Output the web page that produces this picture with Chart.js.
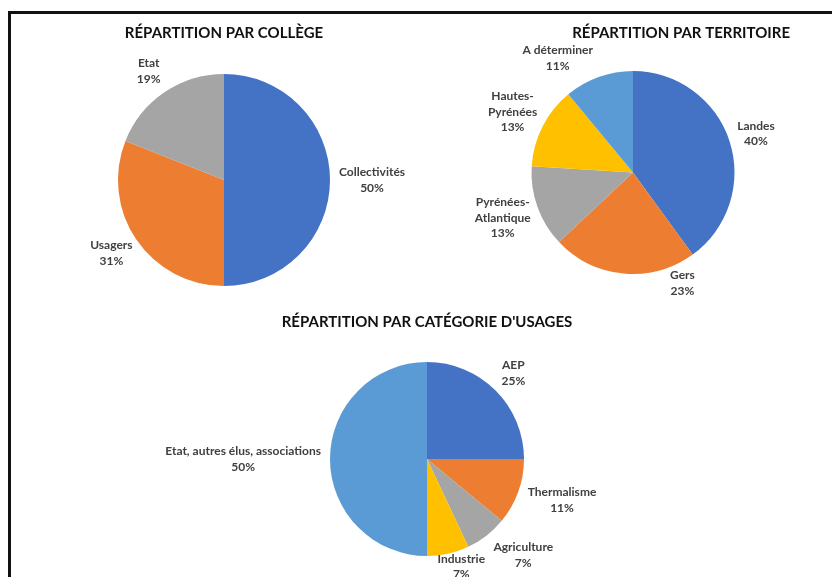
<!DOCTYPE html>
<html>
<head>
<meta charset="utf-8">
<script src="https://cdn.jsdelivr.net/npm/chart.js@4.4.1/dist/chart.umd.min.js"></script>
<style>
    body { margin: 0; background: #fff; }
    #frame { position: absolute; left: 8px; top: 11px; width: 1000px; height: 1000px; border: 3px solid #111; }
    canvas { position: absolute; }
</style>
</head>
<body>
<div id="frame"></div>
<canvas id="college-pie" width="420" height="300" style="left:0;top:0;"></canvas>
<canvas id="territoire-pie" width="412" height="300" style="left:420px;top:0;"></canvas>
<canvas id="usages-pie" width="832" height="277" style="left:0;top:300px;"></canvas>
<script>
    // Répartition par collège
    const collegeLabels = ['Collectivités', 'Usagers', 'Etat'];
    const collegeValues = [50, 31, 19];

    // Répartition par territoire
    const territoireLabels = ['Landes', 'Gers', 'Pyrénées-Atlantique', 'Hautes-Pyrénées', 'A déterminer'];
    const territoireValues = [40, 23, 13, 13, 11];

    // Répartition par catégorie d'usages
    const usagesLabels = ['AEP', 'Thermalisme', 'Agriculture', 'Industrie', 'Etat, autres élus, associations'];
    const usagesValues = [25, 11, 7, 7, 50];

    const blue = '#4472C4', orange = '#ED7D31', grey = '#A5A5A5', gold = '#FFC000', lightBlue = '#5B9BD5';
    const fontFamily = 'Lato, "Open Sans", sans-serif';

    // Excel-like outside labels: "name / xx%"
    const outsideLabels = {
        id: 'outsideLabels',
        afterDatasetsDraw(chart, args, opts) {
            const ctx = chart.ctx;
            const meta = chart.getDatasetMeta(0);
            const data = chart.data.datasets[0].data;
            const total = data.reduce((a, b) => a + b, 0);
            const nudges = opts.nudges || {};
            const lh = 15.5;
            ctx.save();
            ctx.font = 'bold 12px ' + fontFamily;
            ctx.fillStyle = '#404040';
            ctx.textAlign = 'center';
            ctx.textBaseline = 'middle';
            meta.data.forEach((arc, i) => {
                const p = arc.getProps(['x', 'y', 'startAngle', 'endAngle', 'outerRadius'], true);
                const mid = (p.startAngle + p.endAngle) / 2;
                const dx = Math.cos(mid), dy = Math.sin(mid);
                const lines = chart.data.labels[i].replace('-', '-\n').split('\n');
                lines.push(Math.round(data[i] / total * 100) + '%');
                const w = Math.max(...lines.map(l => ctx.measureText(l).width));
                const h = lines.length * lh;
                const n = nudges[i] || [0, 0];
                const cx = p.x + dx * (p.outerRadius + opts.gap) + dx * w / 2 + n[0];
                const cy = p.y + dy * (p.outerRadius + opts.gap) + dy * h / 2 + n[1];
                lines.forEach((l, j) => {
                    ctx.fillText(l, cx, cy - h / 2 + lh / 2 + j * lh);
                });
            });
            ctx.restore();
        }
    };

    function createPieChart(ctx, labels, data, colors, chartTitle, padding, titlePad, titleAlign, nudges) {
        return new Chart(ctx, {
            type: 'pie',
            data: {
                labels: labels,
                datasets: [{
                    data: data,
                    backgroundColor: colors,
                    borderWidth: 0
                }]
            },
            options: {
                responsive: false,
                animation: false,
                layout: { padding: padding },
                plugins: {
                    legend: { display: false },
                    tooltip: { enabled: false },
                    title: {
                        display: true,
                        text: chartTitle,
                        align: titleAlign,
                        color: '#111',
                        font: { family: fontFamily, size: 15, weight: 'bold', lineHeight: 1.2 },
                        padding: titlePad
                    },
                    outsideLabels: { gap: 9, nudges: nudges }
                }
            },
            plugins: [outsideLabels]
        });
    }

    createPieChart(document.getElementById('college-pie').getContext('2d'),
        collegeLabels, collegeValues, [blue, orange, grey],
        'RÉPARTITION PAR COLLÈGE',
        { top: 0, left: 118, right: 90, bottom: 14 }, { top: 24, bottom: 32 }, 'center',
        { 2: [-4, -1] });

    createPieChart(document.getElementById('territoire-pie').getContext('2d'),
        territoireLabels, territoireValues, [blue, orange, grey, gold, lightBlue],
        'RÉPARTITION PAR TERRITOIRE',
        { top: 0, left: 56, right: 42, bottom: 26 }, { top: 24, bottom: 29 }, 'end',
        { 1: [61, -15], 4: [-26, 4] });

    createPieChart(document.getElementById('usages-pie').getContext('2d'),
        usagesLabels, usagesValues, [blue, orange, grey, gold, lightBlue],
        'RÉPARTITION PAR CATÉGORIE D\'USAGES',
        { top: 0, left: 227, right: 205, bottom: 21 }, { top: 13, bottom: 31 }, 'center',
        { 0: [3, 0], 1: [3, 0], 2: [13, 0], 3: [6, -11] });
</script>
</body>
</html>
